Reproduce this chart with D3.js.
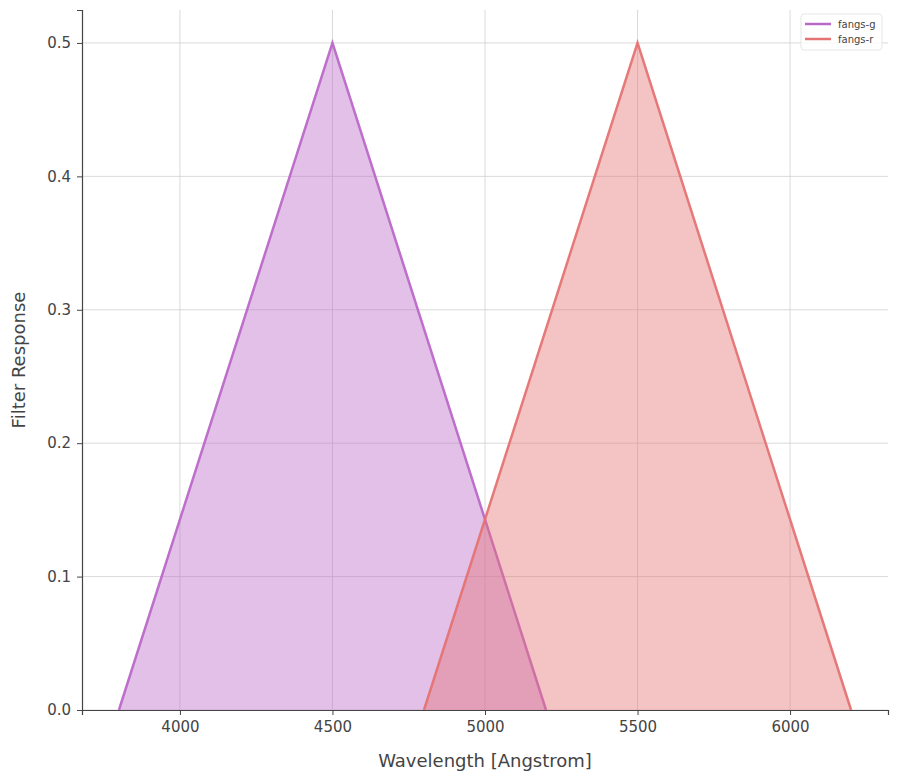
<!DOCTYPE html>
<html><head><meta charset="utf-8">
<script src="https://cdn.jsdelivr.net/npm/d3@7"></script>
<style>body{margin:0;background:#fff}text{font-family:"DejaVu Sans",sans-serif;fill:#444}</style>
</head><body><div id="chart"></div>
<script>
// filter curves
var filterNames = ['fangs-g', 'fangs-r']
var filterColors = ['#ba68c8', '#e57373']
var gWave = [3800, 4500, 5200]
var gResp = [0, 0.5, 0]
var rWave = [4800, 5500, 6200]
var rResp = [0, 0.5, 0]
var xTicks = [4000, 4500, 5000, 5500, 6000]
var yTicks = [0, 0.1, 0.2, 0.3, 0.4, 0.5]

var margin = {left: 82, right: 10, top: 10, bottom: 71}
var width = 898 - margin.left - margin.right
var height = 781 - margin.top - margin.bottom

var svg = d3.select('#chart').append('svg').attr('width', 898).attr('height', 781)
var g = svg.append('g').attr('transform', 'translate(' + margin.left + ',' + margin.top + ')')

var x = d3.scaleLinear().domain([3679, 6321]).range([0, width])
var y = d3.scaleLinear().domain([0, 0.5247]).range([height, 0])

// grid
g.append('g').selectAll('line').data(xTicks).enter().append('line')
  .attr('x1', function (d) { return x(d) }).attr('x2', function (d) { return x(d) })
  .attr('y1', 0).attr('y2', height).attr('stroke', '#d0d0d0').attr('stroke-width', 0.8)
g.append('g').selectAll('line').data(yTicks).enter().append('line')
  .attr('y1', function (d) { return y(d) }).attr('y2', function (d) { return y(d) })
  .attr('x1', 0).attr('x2', width).attr('stroke', '#d0d0d0').attr('stroke-width', 0.8)

var series = [
  {name: filterNames[0], color: filterColors[0], pts: gWave.map(function (w, i) { return [w, gResp[i]] })},
  {name: filterNames[1], color: filterColors[1], pts: rWave.map(function (w, i) { return [w, rResp[i]] })}
]
var area = d3.area().x(function (d) { return x(d[0]) }).y0(y(0)).y1(function (d) { return y(d[1]) })
var line = d3.line().x(function (d) { return x(d[0]) }).y(function (d) { return y(d[1]) })

series.forEach(function (s) {
  g.append('path').datum(s.pts).attr('d', area).attr('fill', s.color).attr('fill-opacity', 0.42)
  g.append('path').datum(s.pts).attr('d', line).attr('fill', 'none')
    .attr('stroke', s.color).attr('stroke-width', 2.5).attr('stroke-opacity', 0.95)
})

// axes
var xAxis = g.append('g').attr('transform', 'translate(0,' + height + ')')
  .call(d3.axisBottom(x).tickValues(xTicks).tickSize(5).tickPadding(6).tickFormat(d3.format('d')))
var yAxis = g.append('g')
  .call(d3.axisLeft(y).tickValues(yTicks).tickSize(5).tickPadding(6).tickFormat(d3.format('.1f')))
;[xAxis, yAxis].forEach(function (a) {
  a.selectAll('text').style('font-size', '15px').attr('fill', '#444')
  a.selectAll('line').attr('stroke', '#444')
  a.select('.domain').attr('stroke', '#444').attr('stroke-width', 1.2)
})

svg.append('text').attr('x', margin.left + width / 2).attr('y', 767).attr('text-anchor', 'middle')
  .style('font-size', '18px').text('Wavelength [Angstrom]')
svg.append('text').attr('transform', 'translate(25,' + (margin.top + height / 2) + ') rotate(-90)')
  .attr('text-anchor', 'middle').style('font-size', '18px').text('Filter Response')

// legend
var lg = svg.append('g').attr('transform', 'translate(801,14)')
lg.append('rect').attr('width', 81).attr('height', 36).attr('rx', 3)
  .attr('fill', '#fff').attr('fill-opacity', 0.8).attr('stroke', '#e6e6e6')
series.forEach(function (s, i) {
  lg.append('line').attr('x1', 4).attr('x2', 30).attr('y1', 10 + i * 15).attr('y2', 10 + i * 15)
    .attr('stroke', s.color).attr('stroke-width', 2.5)
  lg.append('text').attr('x', 37).attr('y', 14 + i * 15).style('font-size', '10px').text(s.name)
})
</script></body></html>
